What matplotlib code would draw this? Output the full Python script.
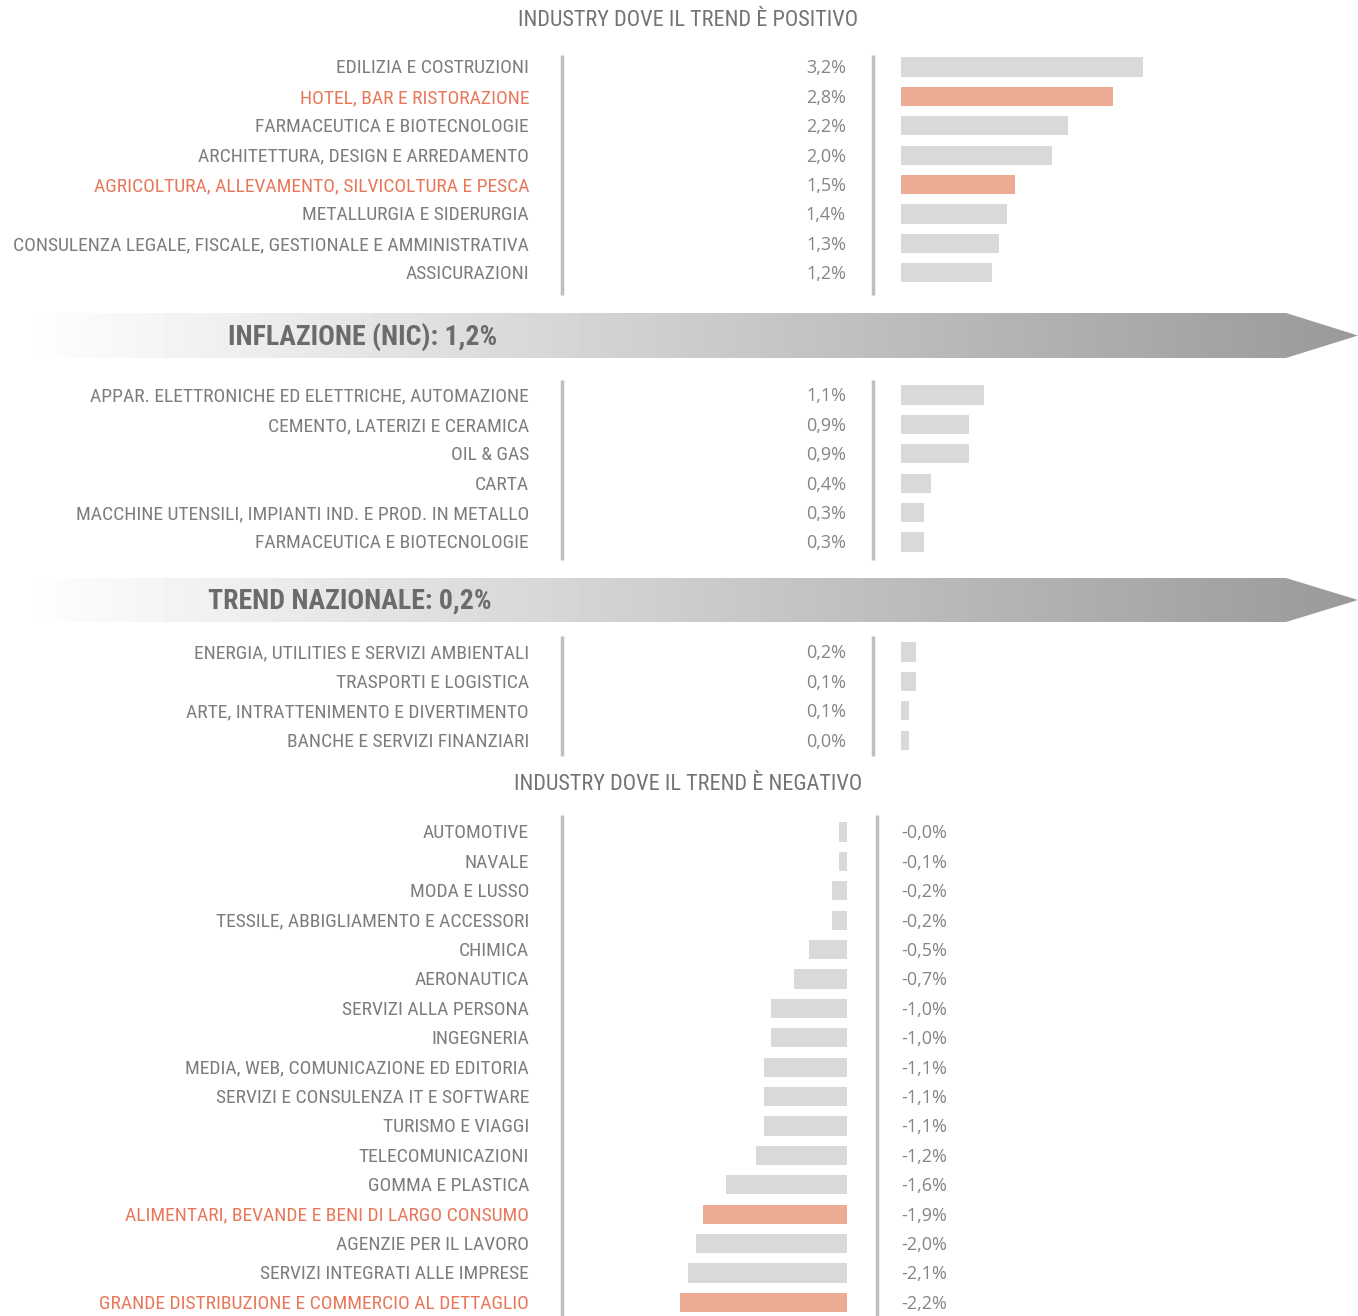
import os
import numpy as np
import matplotlib
matplotlib.use("Agg")
import matplotlib.pyplot as plt
from matplotlib import font_manager as fm
from matplotlib.patches import Polygon
from matplotlib.transforms import blended_transform_factory

# data
pos_names = ["EDILIZIA E COSTRUZIONI", "HOTEL, BAR E RISTORAZIONE",
             "FARMACEUTICA E BIOTECNOLOGIE", "ARCHITETTURA, DESIGN E ARREDAMENTO",
             "AGRICOLTURA, ALLEVAMENTO, SILVICOLTURA E PESCA", "METALLURGIA E SIDERURGIA",
             "CONSULENZA LEGALE, FISCALE, GESTIONALE E AMMINISTRATIVA", "ASSICURAZIONI"]
pos_values = [3.2, 2.8, 2.2, 2.0, 1.5, 1.4, 1.3, 1.2]
pos_labels = ["3,2%", "2,8%", "2,2%", "2,0%", "1,5%", "1,4%", "1,3%", "1,2%"]
pos_hl = [False, True, False, False, True, False, False, False]

mid_names = ["APPAR. ELETTRONICHE ED ELETTRICHE, AUTOMAZIONE", "CEMENTO, LATERIZI E CERAMICA",
             "OIL & GAS", "CARTA", "MACCHINE UTENSILI, IMPIANTI IND. E PROD. IN METALLO",
             "FARMACEUTICA E BIOTECNOLOGIE"]
mid_values = [1.1, 0.9, 0.9, 0.4, 0.3, 0.3]
mid_labels = ["1,1%", "0,9%", "0,9%", "0,4%", "0,3%", "0,3%"]

low_names = ["ENERGIA, UTILITIES E SERVIZI AMBIENTALI", "TRASPORTI E LOGISTICA",
             "ARTE, INTRATTENIMENTO E DIVERTIMENTO", "BANCHE E SERVIZI FINANZIARI"]
low_values = [0.2, 0.2, 0.1, 0.1]
low_labels = ["0,2%", "0,1%", "0,1%", "0,0%"]

neg_names = ["AUTOMOTIVE", "NAVALE", "MODA E LUSSO", "TESSILE, ABBIGLIAMENTO E ACCESSORI",
             "CHIMICA", "AERONAUTICA", "SERVIZI ALLA PERSONA", "INGEGNERIA",
             "MEDIA, WEB, COMUNICAZIONE ED EDITORIA", "SERVIZI E CONSULENZA IT E SOFTWARE",
             "TURISMO E VIAGGI", "TELECOMUNICAZIONI", "GOMMA E PLASTICA",
             "ALIMENTARI, BEVANDE E BENI DI LARGO CONSUMO", "AGENZIE PER IL LAVORO",
             "SERVIZI INTEGRATI ALLE IMPRESE", "GRANDE DISTRIBUZIONE E COMMERCIO AL DETTAGLIO"]
neg_values = [-0.1, -0.1, -0.2, -0.2, -0.5, -0.7, -1.0, -1.0, -1.1, -1.1, -1.1, -1.2,
              -1.6, -1.9, -2.0, -2.1, -2.2]
neg_labels = ["-0,0%", "-0,1%", "-0,2%", "-0,2%", "-0,5%", "-0,7%", "-1,0%", "-1,0%",
              "-1,1%", "-1,1%", "-1,1%", "-1,2%", "-1,6%", "-1,9%", "-2,0%", "-2,1%", "-2,2%"]
neg_hl = [False] * 13 + [True, False, False, True]

banner_texts = ["INFLAZIONE (NIC): 1,2%", "TREND NAZIONALE: 0,2%"]

GREY_TXT = "#7C7C7C"
NUM_TXT = "#858585"
ORANGE_TXT = "#E8775A"
BAR = "#D9D9D9"
BAR_HL = "#EDAB94"
LINE = "#BFBFBF"
NUM_FONT = ["Open Sans", "DejaVu Sans"]


def find_font(candidates, fallback):
    files = {os.path.basename(f.fname).lower(): f.fname for f in fm.fontManager.ttflist}
    for c in candidates:
        if c.lower() in files:
            return fm.FontProperties(fname=files[c.lower()])
    return fallback


cond = find_font(["RobotoCondensed-Regular.ttf", "NotoSans-Condensed.ttf"],
                 fm.FontProperties(family="Liberation Sans"))
cond_b = find_font(["RobotoCondensed-Bold.ttf", "NotoSans-CondensedBold.ttf"],
                   fm.FontProperties(family="Liberation Sans", weight="bold"))

W, H = 1358, 1316
PX_PER_PCT = 75.7
STEP = 29.4

fig = plt.figure(figsize=(W / 100, H / 100), dpi=100)
bg = fig.add_axes([0, 0, 1, 1])
bg.set_xlim(0, W)
bg.set_ylim(H, 0)
bg.axis("off")


def section(names, values, labels, hl, y_first, line_top, line_bot, negative=False):
    n = len(names)
    top = y_first - STEP / 2
    bot = y_first + STEP * (n - 0.5)
    if negative:
        x0, x1 = 562, 847
        ax = fig.add_axes([x0 / W, 1 - bot / H, (x1 - x0) / W, (bot - top) / H])
        ax.set_xlim(-(x1 - x0) / PX_PER_PCT, 0)
    else:
        x0, x1 = 901, W
        ax = fig.add_axes([x0 / W, 1 - bot / H, (x1 - x0) / W, (bot - top) / H])
        ax.set_xlim(0, (x1 - x0) / PX_PER_PCT)
    ax.set_ylim(n - 0.5, -0.5)
    ax.axis("off")
    ys = np.arange(n)
    colors = [BAR_HL if h else BAR for h in hl]
    ax.barh(ys, values, height=0.65, color=colors)

    tr = blended_transform_factory(bg.transData, ax.transData)
    for i, (name, lab, h) in enumerate(zip(names, labels, hl)):
        bg.text(529, i + 0.05, name, transform=tr, ha="right", va="center",
                fontproperties=cond, fontsize=14, color=ORANGE_TXT if h else GREY_TXT)
        if negative:
            bg.text(901, i + 0.05, lab, transform=tr, ha="left", va="center",
                    family=NUM_FONT, fontsize=13, color=NUM_TXT)
        else:
            bg.text(846, i + 0.05, lab, transform=tr, ha="right", va="center",
                    family=NUM_FONT, fontsize=13, color=NUM_TXT)

    x2 = 877 if negative else 873
    for x in (562, x2):
        bg.plot([x, x], [line_top, line_bot], color=LINE, lw=2.5, solid_capstyle="butt")


def banner(y_top, y_bot, text, text_x):
    x_left, x_body, x_tip = 18, 1286, W
    ym = (y_top + y_bot) / 2
    poly = Polygon([(x_left, y_top), (x_body, y_top), (x_tip, ym), (x_body, y_bot),
                    (x_left, y_bot)], closed=True, facecolor="none", edgecolor="none")
    bg.add_patch(poly)
    grad = np.linspace(1.0, 0.6, 256)[None, :]
    im = bg.imshow(grad, cmap="gray", vmin=0, vmax=1, aspect="auto",
                   extent=(x_left, x_tip, y_bot, y_top), interpolation="bilinear")
    im.set_clip_path(poly)
    bg.text(text_x, ym + 1, text, ha="left", va="center", fontproperties=cond_b,
            fontsize=20, color="#6B6B6B")


bg.text(688, 21, "INDUSTRY DOVE IL TREND È POSITIVO", ha="center", va="center",
        fontproperties=cond, fontsize=16, color="#737373")
section(pos_names, pos_values, pos_labels, pos_hl, 67, 55, 295)
banner(313, 358, banner_texts[0], 228)
section(mid_names, mid_values, mid_labels, [False] * 6, 395, 380, 560)
banner(578, 622, banner_texts[1], 208)
section(low_names, low_values, low_labels, [False] * 4, 652, 636, 756)
bg.text(688, 785, "INDUSTRY DOVE IL TREND È NEGATIVO", ha="center", va="center",
        fontproperties=cond, fontsize=16, color="#737373")
section(neg_names, neg_values, neg_labels, neg_hl, 832, 815, 1316, negative=True)

bg.set_xlim(0, W)
bg.set_ylim(H, 0)
fig.savefig("out.png", dpi=100)
